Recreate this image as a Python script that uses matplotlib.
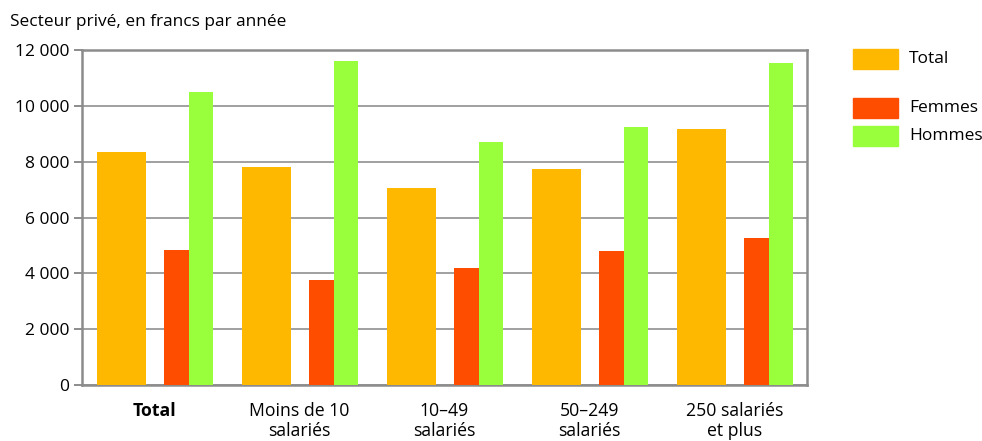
import numpy as np
import matplotlib.pyplot as plt
from matplotlib.patches import Rectangle

categories = ['Total', 'Moins de 10\nsalariés', '10–49\nsalariés', '50–249\nsalariés', '250 salariés\net plus']
total = [8330, 7800, 7050, 7730, 9160]
femmes = [4830, 3760, 4190, 4790, 5260]
hommes = [10480, 11590, 8690, 9230, 11520]

c_total = '#FFB800'
c_femmes = '#FF4D00'
c_hommes = '#99FF3D'
grey = '#8C8C8C'

plt.rcParams['font.family'] = ['Open Sans', 'DejaVu Sans']

fig = plt.figure(figsize=(9.82, 4.41), dpi=100)
ax = fig.add_axes([0.0835, 0.127, 0.7383, 0.7596])

x = np.arange(len(categories))
ax.bar(x - 0.5 + 0.103, total, width=0.338, align='edge', color=c_total, zorder=3)
ax.bar(x - 0.5 + 0.566, femmes, width=0.172, align='edge', color=c_femmes, zorder=3)
ax.bar(x - 0.5 + 0.738, hommes, width=0.166, align='edge', color=c_hommes, zorder=3)

ax.set_xlim(-0.5, len(categories) - 0.5)
ax.set_ylim(0, 12000)
ax.set_yticks(np.arange(0, 12001, 2000))
ax.set_yticklabels(['0', '2 000', '4 000', '6 000', '8 000', '10 000', '12 000'], fontsize=12.5)
ax.yaxis.grid(True, color='#A0A0A0', linewidth=1.4, zorder=0)
ax.tick_params(axis='y', length=6, width=1.4, color=grey, pad=3)
ax.set_xticks(x)
ax.set_xticklabels(categories, fontsize=12.7, linespacing=1.15)
ax.get_xticklabels()[0].set_fontweight('bold')
ax.tick_params(axis='x', length=0, pad=12)
for s in ax.spines.values():
    s.set_color(grey)
    s.set_linewidth(1.8)

fig.text(10 / 982, 1 - 22 / 441, 'Secteur privé, en francs par année', fontsize=12.4, va='center', ha='left')

# legend
leg = [('Total', c_total, 59), ('Femmes', c_femmes, 108), ('Hommes', c_hommes, 136)]
for lab, col, yc in leg:
    fig.patches.append(Rectangle((853 / 982, 1 - (yc + 10) / 441), 45 / 982, 20 / 441,
                                 transform=fig.transFigure, color=col))
    fig.text(909 / 982, 1 - yc / 441, lab, fontsize=12.5, va='center', ha='left')

fig.savefig('out.png', dpi=100)
